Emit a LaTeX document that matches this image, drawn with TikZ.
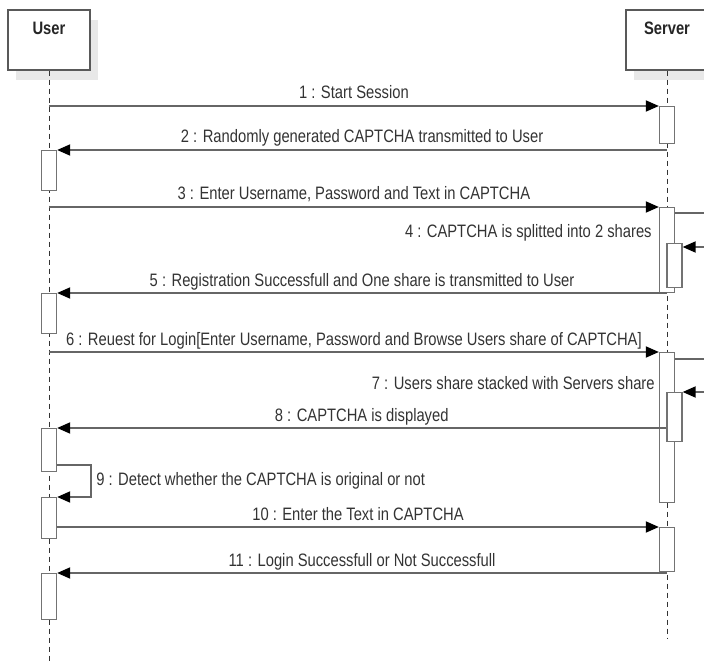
\documentclass[tikz,border=0pt]{standalone}
\usepackage{fontspec}
\setmainfont{Liberation Sans}[FakeStretch=0.82]
\usetikzlibrary{arrows.meta,calc,shadows}

\tikzset{
	headbox/.style={draw=black!65, line width=1.3pt, fill=white, minimum width=82pt, minimum height=60pt, inner sep=0pt,
		drop shadow={shadow xshift=8pt, shadow yshift=-10pt, fill=black!9, opacity=1}},
	headtext/.style={text=black!85, font=\fontsize{18}{20}\selectfont\bfseries, inner sep=0pt, anchor=base},
	life/.style={draw=black!80, line width=1pt, dash pattern=on 5pt off 4pt},
	actbar/.style={draw=black!55, line width=1.3pt, fill=white, minimum width=15pt, inner sep=0pt, anchor=north},
	call/.style={draw=black!60, line width=1.8pt},
	msg/.style={call, -{Triangle[length=13pt,width=11pt,black]}},
	lbl/.style={text=black!80, font=\fontsize{18}{20}\selectfont, inner sep=0pt, anchor=base},
}

\begin{document}
\begin{tikzpicture}[x=1pt, y=-1pt]
		%%%%% START %%%%%
		\useasboundingbox (0,0) rectangle (704,663);
		\clip (0,0) rectangle (704,663);
		
		\node[headbox] (user) at (49,40) {};
		\node[headtext] (userName) at ($(user.north)+(0,25)$) {User};
		\node[headbox] (srv) at (667,40) {};
		\node[headtext] (srvName) at ($(srv.north)+(0,25)$) {Server};
		
		\draw[life] (user.south) -- (49,662);
		\draw[life] (srv.south) -- (667,638);
		
		% activations on the user side
		\node[actbar, minimum height=40pt] (usrA) at (49,150) {};
		\node[actbar, minimum height=40pt] (usrB) at (49,293) {};
		\node[actbar, minimum height=43pt] (usrC) at (49,428) {};
		\node[actbar, minimum height=41pt] (usrD) at (49,497) {};
		\node[actbar, minimum height=46pt] (usrE) at (49,573) {};
		
		% activations on the server side
		\node[actbar, minimum height=37pt] (srvA) at (667,106) {};
		\node[actbar, minimum height=85pt] (srvB) at (667,207) {};
		\node[actbar, minimum height=44pt] (srvBn) at (674.5,243) {};
		\node[actbar, minimum height=150pt] (srvC) at (667,352) {};
		\node[actbar, minimum height=49pt] (srvCn) at (674.5,392) {};
		\node[actbar, minimum height=44pt] (srvD) at (667,527) {};
		
		\draw[msg] (srvA.north west -| user) -- node[lbl, yshift=7pt] {1 : Start Session} (srvA.north west);
		\draw[msg] (usrA.north east -| srv) -- node[lbl, yshift=7pt] {2 : Randomly generated CAPTCHA transmitted to User} (usrA.north east);
		\draw[msg] (srvB.north west -| user) -- node[lbl, yshift=7pt] {3 : Enter Username, Password and Text in CAPTCHA} (srvB.north west);
		
		\draw[call] ($(srvB.north east)+(0,6)$) -- ++(40,0);
		\draw[msg] ($(srvBn.north east)+(40,4)$) -- ($(srvBn.north east)+(0,4)$);
		\node[lbl, anchor=base east] (lblSplit) at ($(srvB.north west)+(-7,30)$) {4 : CAPTCHA is splitted into 2 shares};
		
		\draw[msg] (usrB.north east -| srv) -- node[lbl, yshift=7pt] {5 : Registration Successfull and One share is transmitted to User} (usrB.north east);
		\draw[msg] (srvC.north west -| user) -- node[lbl, yshift=7pt] {6 : Reuest for Login[Enter Username, Password and Browse Users share of CAPTCHA]} (srvC.north west);
		
		\draw[call] ($(srvC.north east)+(0,7)$) -- ++(40,0);
		\draw[msg] ($(srvCn.north east)+(40,0)$) -- (srvCn.north east);
		\node[lbl, anchor=base east] (lblStack) at ($(srvC.north west)+(-4,37)$) {7 : Users share stacked with Servers share};
		
		\draw[msg] (usrC.north east -| srvCn.west) -- node[lbl, yshift=7pt] {8 : CAPTCHA is displayed} (usrC.north east);
		
		\draw[msg] ($(usrC.south east)+(0,-7)$) -| ($(usrD.north east)+(34,0)$) -- (usrD.north east);
		\node[lbl, anchor=base west] (lblDetect) at ($(usrD.north east)+(39,-12)$) {9 : Detect whether the CAPTCHA is original or not};
		
		\draw[msg] (usrD.east |- srvD.north) -- node[lbl, yshift=7pt] {10 : Enter the Text in CAPTCHA} (srvD.north west);
		\draw[msg] (usrE.north east -| srv) -- node[lbl, yshift=7pt] {11 : Login Successfull or Not Successfull} (usrE.north east);
		
		%%%%% END %%%%%
	\end{tikzpicture}
\end{document}
